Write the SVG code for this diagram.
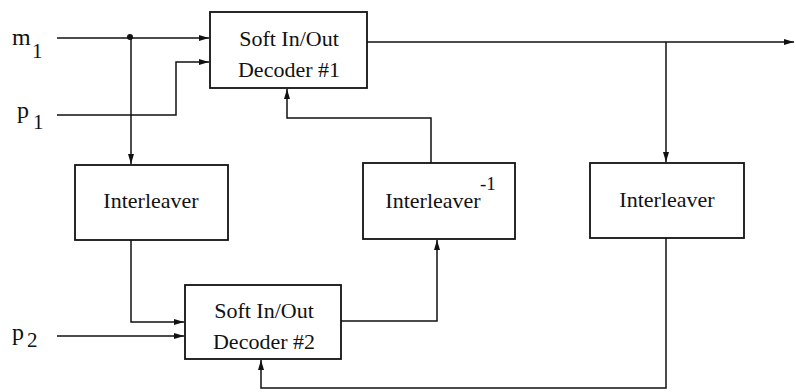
<svg xmlns="http://www.w3.org/2000/svg" width="796" height="392" viewBox="0 0 796 392">
<style>
.box{fill:#fff;stroke:#111;stroke-width:1.8}
.t{font-family:"Liberation Serif","Times New Roman",serif;font-size:22px;fill:#111;text-anchor:middle}
.lbl{font-family:"Liberation Serif","Times New Roman",serif;font-size:24px;fill:#111}
.sub{font-family:"Liberation Serif","Times New Roman",serif;font-size:21px;fill:#111}
.w{fill:none;stroke:#111;stroke-width:1.5}
</style>
<defs>
<marker id="ah" viewBox="0 0 10 6" refX="10" refY="3" markerWidth="10" markerHeight="6" markerUnits="userSpaceOnUse" orient="auto">
<path d="M0,0 L10,3 L0,6 Z" fill="#111"/>
</marker>
</defs>
<g id="labels">
<text class="lbl" x="12" y="45">m</text><text class="sub" x="32" y="58">1</text>
<text class="lbl" x="17" y="118">p</text><text class="sub" x="33" y="129">1</text>
<text class="lbl" x="12" y="340">p</text><text class="sub" x="27" y="347">2</text>
</g>
<g id="dec1">
<rect class="box" x="210" y="12" width="157" height="76"/>
<text class="t" x="289" y="46">Soft In/Out</text>
<text class="t" x="289" y="77">Decoder #1</text>
</g>
<g id="int1">
<rect class="box" x="75" y="165" width="153" height="75"/>
<text class="t" x="151" y="208">Interleaver</text>
</g>
<g id="intinv">
<rect class="box" x="363" y="163" width="152" height="76"/>
<text class="t" x="433" y="208">Interleaver</text>
<text class="sub" x="480" y="190" style="font-size:19px">-1</text>
</g>
<g id="int2">
<rect class="box" x="590" y="163" width="154" height="75"/>
<text class="t" x="667" y="207">Interleaver</text>
</g>
<g id="dec2">
<rect class="box" x="185" y="285" width="156" height="74"/>
<text class="t" x="264" y="318">Soft In/Out</text>
<text class="t" x="264" y="349">Decoder #2</text>
</g>
<g id="connectors">
<path class="w" d="M57,38 H209" marker-end="url(#ah)"/>
<circle cx="130" cy="37" r="3" fill="#111"/>
<path class="w" d="M131,38 V164" marker-end="url(#ah)"/>
<path class="w" d="M57,115 H176 V62 H209" marker-end="url(#ah)"/>
<path class="w" d="M367,42 H794" marker-end="url(#ah)"/>
<path class="w" d="M666,42 V162" marker-end="url(#ah)"/>
<path class="w" d="M431,163 V118 H287 V89" marker-end="url(#ah)"/>
<path class="w" d="M131,240 V322 H184" marker-end="url(#ah)"/>
<path class="w" d="M57,336 H184" marker-end="url(#ah)"/>
<path class="w" d="M341,321 H437 V240" marker-end="url(#ah)"/>
<path class="w" d="M666,238 V388 H261 V360" marker-end="url(#ah)"/>
</g>
</svg>
